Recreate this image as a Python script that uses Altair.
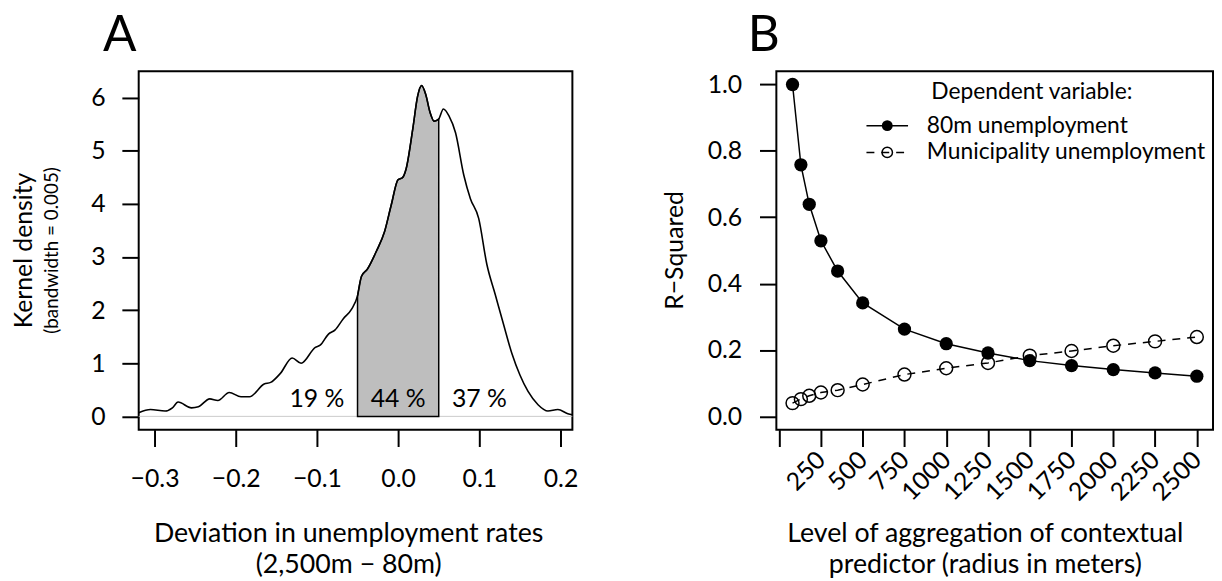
import altair as alt
import pandas as pd

FONT = "Lato"

# ---------------- Panel A data: kernel density of deviations ----------------
dev_x = [-0.3195, -0.305, -0.287, -0.278, -0.271, -0.2545, -0.246, -0.232, -0.222,
         -0.208, -0.1935, -0.183, -0.165, -0.157, -0.145, -0.1305, -0.1195, -0.102,
         -0.096, -0.0858, -0.0776, -0.0675, -0.0573, -0.05, -0.0451, -0.038, -0.0268,
         -0.0167, -0.0085, 0.0, 0.005, 0.0098, 0.018, 0.024, 0.0289, 0.034, 0.0394,
         0.0443, 0.05, 0.0557, 0.0626, 0.0707, 0.0809, 0.089, 0.0992, 0.1093, 0.1195,
         0.1297, 0.14, 0.15, 0.16, 0.1723, 0.1845, 0.1967, 0.209, 0.2146]
dens_y = [0.07, 0.13, 0.10, 0.16, 0.27, 0.16, 0.18, 0.33, 0.30,
          0.45, 0.37, 0.37, 0.61, 0.64, 0.81, 1.10, 1.00, 1.30,
          1.34, 1.55, 1.63, 1.84, 2.02, 2.27, 2.64, 2.77, 3.11,
          3.48, 3.98, 4.46, 4.49, 4.66, 5.41, 6.03, 6.23, 6.06, 5.72,
          5.56, 5.60, 5.79, 5.66, 5.34, 4.54, 4.10, 3.73, 2.86, 2.30,
          1.74, 1.19, 0.78, 0.47, 0.22, 0.10, 0.13, 0.05, 0.03]
shade_range = [-0.05, 0.05]
pct_labels = ["19 %", "44 %", "37 %"]
pct_x = [-0.1, 0.0, 0.1]
pct_y = [0.32, 0.32, 0.32]
a_xticks = [-0.3, -0.2, -0.1, 0.0, 0.1, 0.2]
a_yticks = [0, 1, 2, 3, 4, 5, 6]
a_ylab = ["Kernel density", "(bandwidth = 0.005)"]
a_xlab = ["Deviation in unemployment rates", "(2,500m \u2212 80m)"]

# ---------------- Panel B data: R-squared by aggregation level ----------------
radius = [80, 130, 180, 250, 350, 500, 750, 1000, 1250, 1500, 1750, 2000, 2250, 2500]
r2_80m = [1.0, 0.758, 0.639, 0.529, 0.438, 0.342, 0.263, 0.219, 0.191, 0.168,
          0.153, 0.141, 0.131, 0.121]
r2_muni = [0.040, 0.052, 0.062, 0.072, 0.079, 0.096, 0.126, 0.145, 0.161, 0.183,
           0.197, 0.213, 0.226, 0.239]
series_names = ["80m unemployment", "Municipality unemployment"]
legend_title = "Dependent variable:"
b_xticks = [0, 250, 500, 750, 1000, 1250, 1500, 1750, 2000, 2250, 2500]
b_yticks = [0.0, 0.2, 0.4, 0.6, 0.8, 1.0]
b_ylab = "R\u2212Squared"
b_xlab = ["Level of aggregation of contextual", "predictor (radius in meters)"]
panel_tags = ["A", "B"]

W_A, W_B, H = 438, 441, 362
TITLE_FS = 27
TICK_FS = 25
LEG_FS = 23


def txt(text, x, y, size, angle=0, align="center", baseline="alphabetic"):
    return alt.Chart(pd.DataFrame({"t": [text]})).mark_text(
        font=FONT, fontSize=size, angle=angle, align=align, baseline=baseline,
        color="black"
    ).encode(x=alt.value(x), y=alt.value(y), text="t:N")


# ---------------- Panel A ----------------
dfA = pd.DataFrame({"x": dev_x, "y": dens_y})
xA = alt.X("x:Q", scale=alt.Scale(domain=[-0.3195, 0.2146], nice=False, zero=False),
           axis=alt.Axis(values=a_xticks, format=".1f", title=None, labelPadding=20,
                         labelFlush=False, labelOverlap=False))
yA = alt.Y("y:Q", scale=alt.Scale(domain=[-0.25, 6.5], nice=False, zero=False),
           axis=alt.Axis(values=a_yticks, format="d", title=None, labelPadding=17,
                         labelOverlap=False))

zero_line = alt.Chart(pd.DataFrame({"z": [0]})).mark_rule(
    color="#BEBEBE", strokeWidth=0.8).encode(y=alt.Y("z:Q"))
shade = alt.Chart(dfA).transform_filter(
    (alt.datum.x >= shade_range[0] - 1e-9) & (alt.datum.x <= shade_range[1] + 1e-9)
).mark_area(color="#BEBEBE", stroke="black", strokeWidth=1.5, opacity=1,
            interpolate="monotone").encode(x=xA, y=yA, y2=alt.datum(0))
curve = alt.Chart(dfA).mark_line(color="black", strokeWidth=1.6,
                                 interpolate="monotone").encode(x=xA, y=yA)
pcts = alt.Chart(pd.DataFrame({"x": pct_x, "y": pct_y, "t": pct_labels})).mark_text(
    font=FONT, fontSize=25, baseline="middle", color="black"
).encode(x="x:Q", y="y:Q", text="t:N")

panelA = alt.layer(
    zero_line, shade, curve, pcts,
    txt(panel_tags[0], -36, -20, 50, align="left"),
    txt(a_ylab[0], -116, H / 2, 25, angle=270, baseline="middle"),
    txt(a_ylab[1], -87, H / 2, 19, angle=270, baseline="middle"),
    txt(a_xlab[0], 212, 475, TITLE_FS),
    txt(a_xlab[1], 212, 507, TITLE_FS),
).properties(width=W_A, height=H)

# ---------------- Panel B ----------------
dfB1 = pd.DataFrame({"r": radius, "v": r2_80m})
dfB2 = pd.DataFrame({"r": radius, "v": r2_muni})
xB = alt.X("r:Q", scale=alt.Scale(domain=[-16.8, 2596.8], nice=False, zero=False),
           axis=alt.Axis(values=b_xticks, format="d", title=None, labelAngle=315,
                         labelAlign="right", labelBaseline="middle", labelPadding=9,
                         labelFlush=False, labelOverlap=False,
                         labelExpr="datum.value == 0 ? '' : datum.label"))
yB = alt.Y("v:Q", scale=alt.Scale(domain=[-0.04, 1.04], nice=False, zero=False),
           axis=alt.Axis(values=b_yticks, format=".1f", title=None, labelPadding=18,
                         labelOverlap=False))

line1 = alt.Chart(dfB1).mark_line(color="black", strokeWidth=1.5).encode(x=xB, y=yB)
pts1 = alt.Chart(dfB1).mark_point(filled=True, color="black", size=180, opacity=1,
                                  shape="circle").encode(x=xB, y=yB)
line2 = alt.Chart(dfB2).mark_line(color="black", strokeWidth=1.5,
                                  strokeDash=[8, 7]).encode(x=xB, y=yB)
pts2 = alt.Chart(dfB2).mark_point(filled=False, color="black", size=170, opacity=1,
                                  strokeWidth=1.5, shape="circle").encode(x=xB, y=yB)

leg_df1 = pd.DataFrame({"s": [series_names[0]]})
leg_df2 = pd.DataFrame({"s": [series_names[1]]})
leg_line1 = alt.Chart(leg_df1).mark_rule(color="black", strokeWidth=1.5).encode(
    x=alt.value(91), x2=alt.value(133), y=alt.value(55))
leg_pt1 = alt.Chart(leg_df1).mark_point(filled=True, color="black", size=120, opacity=1,
                                        shape="circle").encode(x=alt.value(112), y=alt.value(55))
leg_line2 = alt.Chart(leg_df2).mark_rule(color="black", strokeWidth=1.5,
                                         strokeDash=[8, 7]).encode(
    x=alt.value(91), x2=alt.value(133), y=alt.value(82))
leg_pt2 = alt.Chart(leg_df2).mark_point(filled=False, color="black", size=110, opacity=1,
                                        strokeWidth=1.5, shape="circle").encode(
    x=alt.value(112), y=alt.value(82))

panelB = alt.layer(
    line1, line2, pts1, pts2,
    leg_line1, leg_pt1, leg_line2, leg_pt2,
    txt(legend_title, 258, 28, LEG_FS),
    txt(series_names[0], 152, 55, LEG_FS, align="left", baseline="middle"),
    txt(series_names[1], 152, 82, LEG_FS, align="left", baseline="middle"),
    txt(panel_tags[1], -29, -20, 50, align="left"),
    txt(b_ylab, -102, H / 2, 25, angle=270, baseline="middle"),
    txt(b_xlab[0], 211, 475, TITLE_FS),
    txt(b_xlab[1], 211, 507, TITLE_FS),
).properties(width=W_B, height=H)

chart = alt.hconcat(panelA, panelB, spacing=84).properties(
    padding={"left": 3, "top": 0, "right": 0, "bottom": 0},
    background="white"
).configure_view(
    stroke="black", strokeWidth=2
).configure_axis(
    domain=False, grid=False, tickColor="black", tickWidth=2, tickSize=17,
    labelFont=FONT, labelFontSize=TICK_FS, labelColor="black"
)

chart.save("out.html", embed_options={"renderer": "svg", "actions": False})
